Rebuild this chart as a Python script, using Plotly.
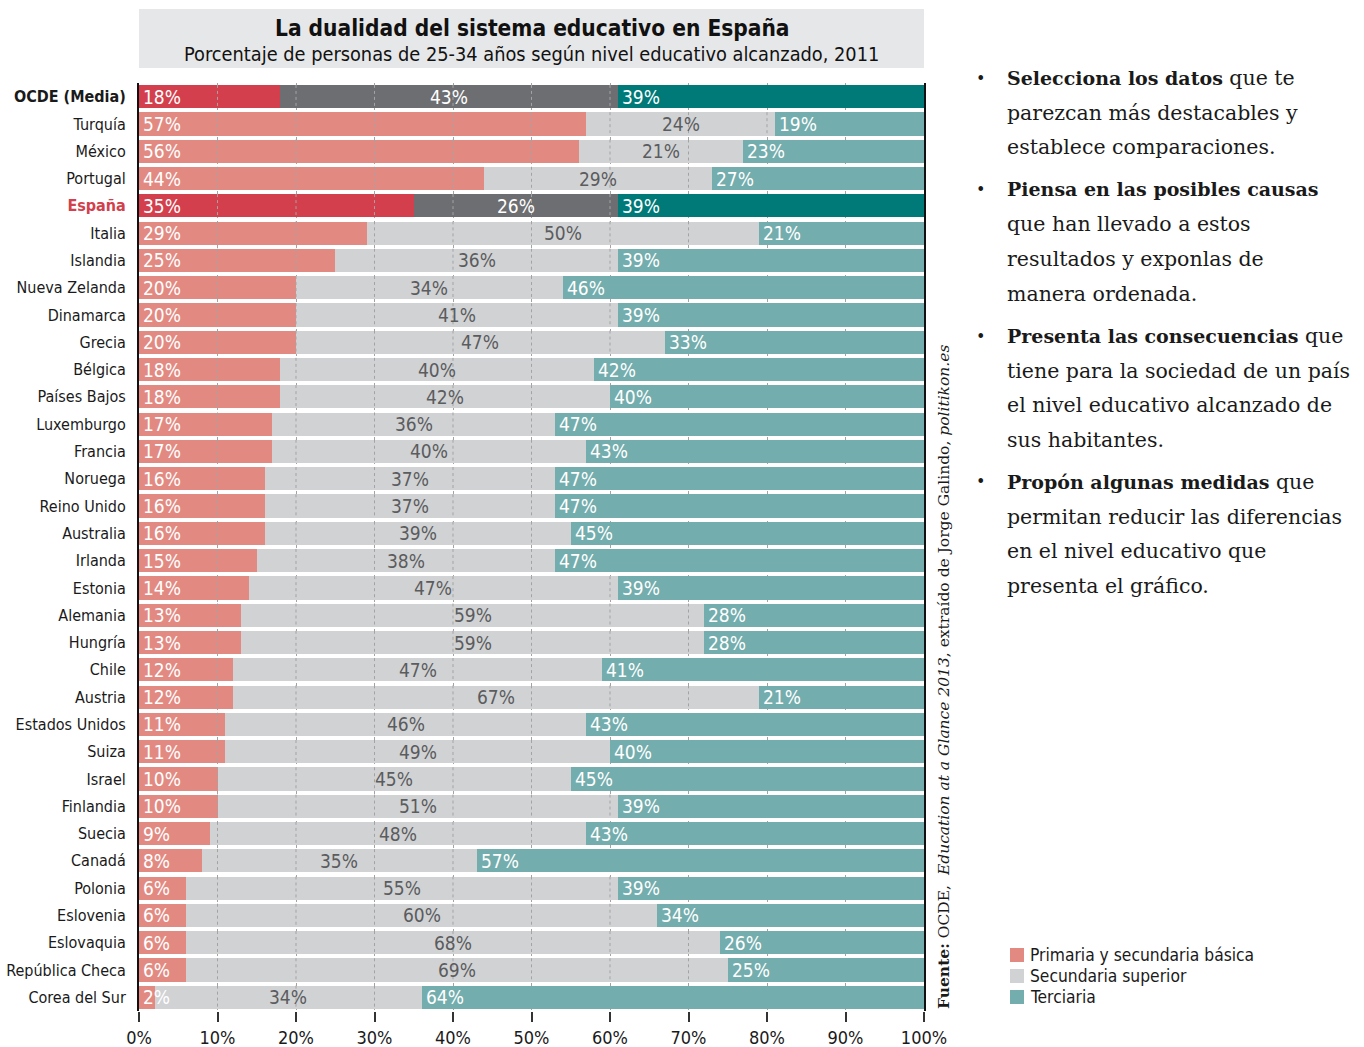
import plotly.graph_objects as go

categories = ["OCDE (Media)", "Turquía", "México", "Portugal", "España", "Italia", "Islandia",
              "Nueva Zelanda", "Dinamarca", "Grecia", "Bélgica", "Países Bajos", "Luxemburgo",
              "Francia", "Noruega", "Reino Unido", "Australia", "Irlanda", "Estonia", "Alemania",
              "Hungría", "Chile", "Austria", "Estados Unidos", "Suiza", "Israel", "Finlandia",
              "Suecia", "Canadá", "Polonia", "Eslovenia", "Eslovaquia", "República Checa",
              "Corea del Sur"]
primaria = [18, 57, 56, 44, 35, 29, 25, 20, 20, 20, 18, 18, 17, 17, 16, 16, 16, 15, 14, 13,
            13, 12, 12, 11, 11, 10, 10, 9, 8, 6, 6, 6, 6, 2]
secundaria = [43, 24, 21, 29, 26, 50, 36, 34, 41, 47, 40, 42, 36, 40, 37, 37, 39, 38, 47, 59,
              59, 47, 67, 46, 49, 45, 51, 48, 35, 55, 60, 68, 69, 34]
terciaria = [39, 19, 23, 27, 39, 21, 39, 46, 39, 33, 42, 40, 47, 43, 47, 47, 45, 47, 39, 28,
             28, 41, 21, 43, 40, 45, 39, 43, 57, 39, 34, 26, 25, 64]
highlight = ["OCDE (Media)", "España"]
series_names = ["Primaria y secundaria básica", "Secundaria superior", "Terciaria"]
tick_vals = [0, 10, 20, 30, 40, 50, 60, 70, 80, 90, 100]

col_light = ["#E28A82", "#D1D2D4", "#74ADAD"]
col_dark = ["#D33F4C", "#6D6E71", "#007A78"]

COND = "Liberation Sans Narrow, DejaVu Sans Condensed, Arial Narrow, sans-serif"
SERIF = "DejaVu Serif, Liberation Serif, serif"

W, H = 1364, 1047
L, R, T, B = 139, 440, 83, 36
PW, PH = W - L - R, H - T - B


def px(xp):
    return (xp - L) / PW


def py(yp):
    return (H - B - yp) / PH


fig = go.Figure()
all_series = [primaria, secundaria, terciaria]
for k, vals in enumerate(all_series):
    colors = [col_dark[k] if c in highlight else col_light[k] for c in categories]
    fig.add_trace(go.Bar(
        x=vals, y=categories, orientation="h", name=series_names[k],
        marker=dict(color=colors, line=dict(width=0)), showlegend=False,
        hoverinfo="x+y+name"))

annotations = []
shapes = []
for i, c in enumerate(categories):
    hi = c in highlight
    p, s, t = primaria[i], secundaria[i], terciaria[i]
    lab_font = dict(family=COND, size=19, color="white")
    annotations.append(dict(x=0, y=c, xref="x", yref="y", text=f"{p}%", showarrow=False,
                            xanchor="left", yanchor="middle", xshift=2, font=lab_font))
    annotations.append(dict(x=p + s / 2, y=c, xref="x", yref="y", text=f"{s}%", showarrow=False,
                            xanchor="center", yanchor="middle",
                            font=dict(family=COND, size=19, color="white" if hi else "#5B5C5E")))
    annotations.append(dict(x=p + s, y=c, xref="x", yref="y", text=f"{t}%", showarrow=False,
                            xanchor="left", yanchor="middle", xshift=2, font=lab_font))
    # dotted grid visible over the first two segments
    for g in tick_vals[1:-1]:
        if g < p + s:
            shapes.append(dict(type="line", xref="x", yref="y", x0=g, x1=g,
                               y0=i - 0.43, y1=i + 0.43, layer="above",
                               line=dict(color="#A3A3A3", width=1, dash="dot")))

# title box
shapes.append(dict(type="rect", xref="paper", yref="paper", x0=0, x1=1, y0=py(68), y1=py(9),
                   fillcolor="#E6E7E8", line=dict(width=0), layer="below"))
annotations.append(dict(x=0.5, y=py(28), xref="paper", yref="paper", showarrow=False,
                        text="<b>La dualidad del sistema educativo en España</b>",
                        font=dict(family=COND, size=22.5, color="#111111"),
                        xanchor="center", yanchor="middle"))
annotations.append(dict(x=0.5, y=py(54), xref="paper", yref="paper", showarrow=False,
                        text="Porcentaje de personas de 25-34 años según nivel educativo alcanzado, 2011",
                        font=dict(family=COND, size=19.8, color="#111111"),
                        xanchor="center", yanchor="middle"))

# right-hand text
BOLD = "<b><span style='font-size:19px'>{}</span></b>"
lines = [
    (78, BOLD.format("Selecciona los datos") + " que te", True),
    (113, "parezcan más destacables y", False),
    (147, "establece comparaciones.", False),
    (189, BOLD.format("Piensa en las posibles causas"), True),
    (224, "que han llevado a estos", False),
    (259, "resultados y exponlas de", False),
    (294, "manera ordenada.", False),
    (336, BOLD.format("Presenta las consecuencias") + " que", True),
    (371, "tiene para la sociedad de un país", False),
    (405, "el nivel educativo alcanzado de", False),
    (440, "sus habitantes.", False),
    (482, BOLD.format("Propón algunas medidas") + " que", True),
    (517, "permitan reducir las diferencias", False),
    (551, "en el nivel educativo que", False),
    (586, "presenta el gráfico.", False),
]
for yy, txt, bullet in lines:
    annotations.append(dict(x=px(1005), y=py(yy), xref="paper", yref="paper", showarrow=False,
                            text=txt, xanchor="left", yanchor="middle",
                            font=dict(family=SERIF, size=20.5, color="#1A1A1A")))
    if bullet:
        annotations.append(dict(x=px(980), y=py(yy), xref="paper", yref="paper", showarrow=False,
                                text="•", xanchor="center", yanchor="middle",
                                font=dict(family=SERIF, size=16, color="#1A1A1A")))

# source (rotated)
annotations.append(dict(x=px(943), y=py(677), xref="paper", yref="paper", showarrow=False,
                        textangle=-90, xanchor="center", yanchor="middle",
                        text="<b>Fuente:</b> OCDE,  <i>Education at a Glance 2013</i>, extraído de Jorge Galindo, <i>politikon.es</i>",
                        font=dict(family=SERIF, size=15.5, color="#1A1A1A")))

# legend
for k, (yy, name) in enumerate(zip([955, 976, 997], series_names)):
    shapes.append(dict(type="rect", xref="paper", yref="paper", x0=px(1010), x1=px(1024),
                       y0=py(yy + 7), y1=py(yy - 7), fillcolor=col_light[k], line=dict(width=0)))
    annotations.append(dict(x=px(1028), y=py(yy), xref="paper", yref="paper", showarrow=False,
                            text=name, xanchor="left", yanchor="middle",
                            font=dict(family=COND, size=17.3, color="#1A1A1A")))

ticktext_y = []
for c in categories:
    if c == "OCDE (Media)":
        ticktext_y.append("<b>OCDE (Media)</b>")
    elif c == "España":
        ticktext_y.append("<b><span style='color:#D33F4C'>España</span></b>")
    else:
        ticktext_y.append(c)

fig.update_layout(
    width=W, height=H, barmode="stack", bargap=0.15,
    margin=dict(l=L, r=R, t=T, b=B, pad=0, autoexpand=False),
    paper_bgcolor="white", plot_bgcolor="white",
    font=dict(family=COND, size=18, color="#1A1A1A"),
    annotations=annotations, shapes=shapes,
    xaxis=dict(range=[0, 100], tickvals=tick_vals, ticktext=[f"{v}%" for v in tick_vals],
               showgrid=True, gridcolor="#A3A3A3", griddash="dot", gridwidth=1,
               showline=False, zeroline=False, ticks="outside", ticklen=10, tickwidth=2,
               tickcolor="#333333", tickfont=dict(family=COND, size=18, color="#1A1A1A"),
               fixedrange=True, automargin=False),
    yaxis=dict(categoryorder="array", categoryarray=categories, tickvals=categories,
               ticktext=ticktext_y, autorange="reversed", range=[33.5, -0.5],
               showgrid=False, zeroline=False, showline=True, linecolor="#111111", linewidth=2,
               mirror=True, ticks="", ticklabelstandoff=8, automargin=False,
               tickfont=dict(family=COND, size=16, color="#1A1A1A"), fixedrange=True),
)

fig.write_html("out.html", config={"displayModeBar": False},
               post_script="document.body.style.margin='0';document.body.style.overflow='hidden';")
